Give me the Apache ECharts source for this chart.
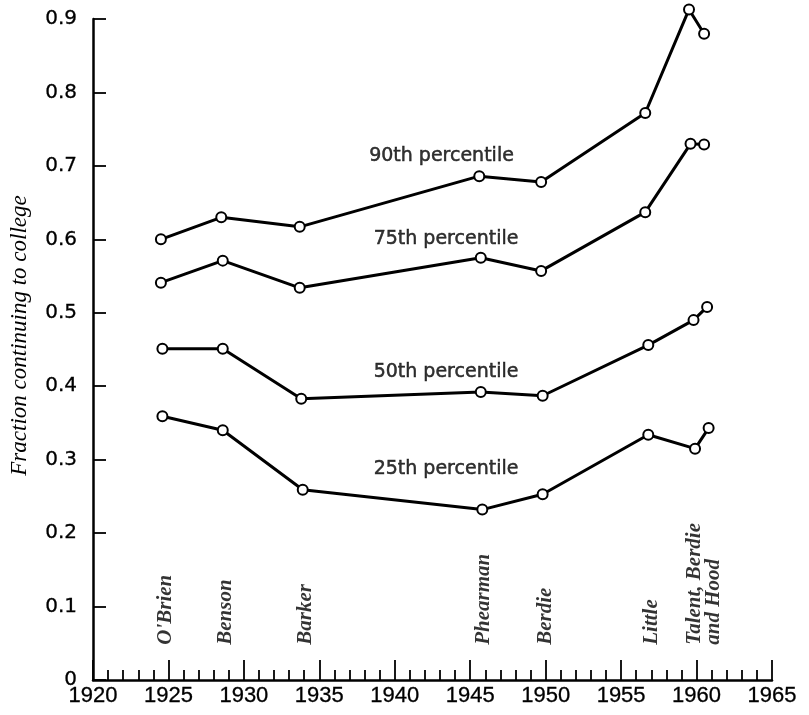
<!DOCTYPE html>
<html>
<head>
<meta charset="utf-8">
<script src="https://cdn.jsdelivr.net/npm/echarts@6/dist/echarts.min.js"></script>
<style>
html,body{margin:0;padding:0;background:#fff;}
#chart{width:809px;height:715px;}
</style>
</head>
<body>
<div id="chart"></div>
<script>
// ---- data ----
const years90 = [1924.5, 1928.5, 1933.7, 1945.6, 1949.7, 1956.6, 1959.5, 1960.5];
const frac90  = [0.600, 0.630, 0.617, 0.686, 0.678, 0.772, 0.913, 0.880];
const years75 = [1924.5, 1928.6, 1933.7, 1945.7, 1949.7, 1956.6, 1959.6, 1960.5];
const frac75  = [0.541, 0.571, 0.534, 0.575, 0.557, 0.637, 0.730, 0.729];
const years50 = [1924.6, 1928.6, 1933.8, 1945.7, 1949.8, 1956.8, 1959.8, 1960.7];
const frac50  = [0.451, 0.451, 0.383, 0.392, 0.387, 0.456, 0.490, 0.508];
const years25 = [1924.6, 1928.6, 1933.9, 1945.8, 1949.8, 1956.8, 1959.9, 1960.8];
const frac25  = [0.359, 0.340, 0.259, 0.232, 0.253, 0.334, 0.315, 0.343];

const seriesNames = ['90th percentile', '75th percentile', '50th percentile', '25th percentile'];
const seriesLabelYears = [1938.3, 1938.6, 1938.6, 1938.6];
const seriesLabelValues = [0.714, 0.600, 0.419, 0.287];

const studyNames = ["O'Brien", 'Benson', 'Barker', 'Phearman', 'Berdie', 'Little', 'Talent, Berdie\nand Hood'];
const studyYears = [1924.8, 1928.8, 1934.1, 1945.9, 1950.0, 1957.0, 1960.5];
const studyLabelBase = 0.048;

const xMin = 1920, xMax = 1965, xStep = 5;
const yMin = 0, yMax = 0.9, yStep = 0.1;
const yTitle = 'Fraction continuing to college';

// ---- chart ----
const pairs = (xs, ys) => xs.map((x, i) => [x, ys[i]]);
const lineData = [pairs(years90, frac90), pairs(years75, frac75), pairs(years50, frac50), pairs(years25, frac25)];

const lineSeries = lineData.map((d, i) => ({
  name: seriesNames[i],
  type: 'line',
  data: d,
  clip: false,
  symbol: 'circle',
  symbolSize: 10,
  lineStyle: { color: '#000', width: 3 },
  itemStyle: { color: '#fff', borderColor: '#000', borderWidth: 2 },
  z: 3
}));

const pctLabelSeries = {
  type: 'scatter',
  data: seriesNames.map((n, i) => ({ value: [seriesLabelYears[i], seriesLabelValues[i]], name: n })),
  symbolSize: 0,
  silent: true,
  label: {
    show: true, position: 'inside', align: 'left', verticalAlign: 'middle',
    formatter: p => p.name,
    color: '#000', fontFamily: 'DejaVu Sans', fontSize: 19,
    textBorderColor: '#000', textBorderWidth: 0.5
  },
  z: 4
};

const studyLabelSeries = {
  type: 'scatter',
  data: studyNames.map((n, i) => ({ value: [studyYears[i], studyLabelBase], name: n })),
  symbolSize: 0,
  silent: true,
  label: {
    show: true, position: 'inside', align: 'left', verticalAlign: 'middle',
    rotate: 90,
    formatter: p => p.name,
    color: '#000', fontFamily: 'Liberation Serif', fontStyle: 'italic', fontWeight: 'bold',
    fontSize: 21, lineHeight: 19
  },
  z: 4
};

const chart = echarts.init(document.getElementById('chart'), null, { renderer: 'canvas' });
chart.setOption({
  animation: false,
  backgroundColor: '#fff',
  grid: { left: 88, right: 37, top: 19, bottom: 35, containLabel: false },
  xAxis: {
    type: 'value', min: xMin, max: xMax, interval: xStep,
    axisLine: { show: true, lineStyle: { color: '#000', width: 2.5 } },
    axisTick: { show: true, inside: true, length: 20, lineStyle: { color: '#000', width: 1.8 } },
    minorTick: { show: true, splitNumber: 5, length: 10, lineStyle: { color: '#000', width: 1.8 } },
    splitLine: { show: false },
    axisLabel: { color: '#000', fontFamily: 'Liberation Sans', fontSize: 22, margin: 5,
      textBorderColor: '#000', textBorderWidth: 0.3,
      formatter: v => String(v) }
  },
  yAxis: {
    type: 'value', min: yMin, max: yMax, interval: yStep,
    name: yTitle, nameLocation: 'middle', nameGap: 62, nameRotate: 90,
    nameTextStyle: { color: '#000', fontFamily: 'Liberation Serif', fontStyle: 'italic', fontSize: 23,
      padding: [0, 0, 0, 28] },
    axisLine: { show: true, lineStyle: { color: '#000', width: 2.5 } },
    axisTick: { show: true, inside: true, length: 13, lineStyle: { color: '#000', width: 1.8 } },
    splitLine: { show: false },
    axisLabel: { color: '#000', fontFamily: 'DejaVu Sans', fontSize: 20, margin: 16,
      textBorderColor: '#000', textBorderWidth: 0.3,
      formatter: v => v === 0 ? '0' : v.toFixed(1) }
  },
  series: [...lineSeries, pctLabelSeries, studyLabelSeries]
});
</script>
</body>
</html>
